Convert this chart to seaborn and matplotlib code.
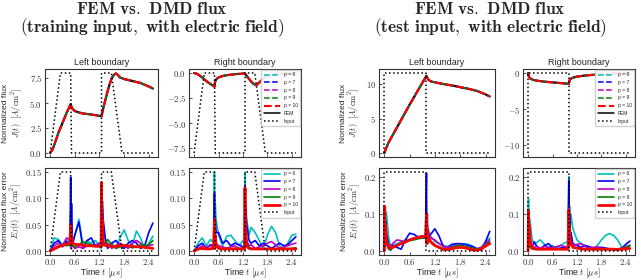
import matplotlib
matplotlib.use("Agg")
import matplotlib.pyplot as plt
import pandas as pd
import seaborn as sns
from matplotlib.lines import Line2D
from matplotlib.ticker import FuncFormatter

# ---------------- data ----------------
labels_p = ["p = 6", "p = 7", "p = 8", "p = 9", "p = 10"]
colors_p = ["#00BFBF", "#0000FF", "#BF00BF", "#008000", "#FF0000"]

# input waveforms (normalized)
train_in_t = [0.0, 0.25, 0.5, 0.52, 1.25, 1.25, 1.49, 1.75, 2.5]
train_in_v = [0, 1, 1, 0, 0, 1, 1, 0, 0]
test_in_t = [0.0, 0.0, 1.0, 1.0, 2.5]
test_in_v = [0, 1, 1, 0, 0]
# input scale / offset for each panel: flux-left, flux-right, err-left, err-right
train_in_scale = [8.0, 8.0, 0.15, 0.15]
train_in_offset = [0.0, -8.0, 0.0, 0.0]
test_in_scale = [11.6, 11.1, 0.213, 0.213]
test_in_offset = [0.0, -11.1, 0.0, 0.0]

# flux (FEM ~ DMD, visually identical)
t_flux_tr = [0.0, 0.05, 0.1, 0.15, 0.2, 0.3, 0.4, 0.5, 0.52, 0.55, 0.6, 0.7, 0.8, 1.0,
             1.25, 1.3, 1.35, 1.4, 1.45, 1.5, 1.55, 1.6, 1.65, 1.7, 1.8, 2.0, 2.2, 2.4, 2.5]
J_left_tr = [0.0, 0.3, 0.8, 1.4, 2.0, 3.0, 4.0, 4.9, 4.6, 4.4, 4.2, 4.05, 3.95, 3.85,
             3.68, 4.6, 5.4, 6.2, 6.9, 7.5, 7.8, 7.95, 7.8, 7.55, 7.4, 7.2, 7.0, 6.65, 6.45]
J_right_tr = [0.0, -0.05, -0.15, -0.3, -0.45, -0.8, -1.1, -1.35, -0.8, -0.6, -0.45, -0.3, -0.22, -0.12,
              -0.05, -0.35, -0.6, -0.85, -1.05, -1.2, -1.15, -0.95, -0.75, -0.55, -0.3, -0.12, -0.06, -0.04, -0.03]

t_flux_te = [0.0, 0.02, 0.05, 0.1, 0.2, 0.4, 0.6, 0.8, 1.0, 1.02, 1.05, 1.1, 1.2, 1.4,
             1.6, 1.8, 2.0, 2.2, 2.4, 2.5]
J_left_te = [0.0, 0.3, 0.8, 1.5, 2.6, 4.8, 7.0, 9.1, 11.2, 10.9, 10.6, 10.4, 10.25, 10.0,
             9.8, 9.55, 9.3, 9.0, 8.5, 8.2]
J_right_te = [0.0, -0.5, -0.75, -0.9, -1.05, -1.2, -1.3, -1.4, -1.5, -1.0, -0.8, -0.65, -0.5, -0.35,
              -0.25, -0.18, -0.12, -0.08, -0.05, -0.04]

# errors, training
t_err_tr = [0.0, 0.1, 0.2, 0.3, 0.4, 0.48, 0.5, 0.51, 0.52, 0.54, 0.6, 0.7, 0.8, 0.9, 1.0, 1.1, 1.2,
            1.24, 1.25, 1.26, 1.27, 1.29, 1.35, 1.4, 1.5, 1.6, 1.7, 1.8, 1.9, 2.0, 2.1, 2.2, 2.3, 2.4, 2.5]
E_left_tr_p6 = [0.0, 0.025, 0.022, 0.012, 0.02, 0.015, 0.07, 0.01, 0.05, 0.02, 0.03, 0.06, 0.01, 0.02, 0.015, 0.02, 0.01,
                0.005, 0.11, 0.02, 0.08, 0.04, 0.02, 0.01, 0.015, 0.005, 0.025, 0.04, 0.02, 0.01, 0.038, 0.025, 0.005, 0.015, 0.028]
E_left_tr_p7 = [0.0, 0.015, 0.02, 0.008, 0.018, 0.01, 0.14, 0.02, 0.09, 0.01, 0.03, 0.055, 0.005, 0.02, 0.025, 0.01, 0.015,
                0.01, 0.13, 0.03, 0.095, 0.06, 0.02, 0.005, 0.015, 0.02, 0.01, 0.005, 0.015, 0.02, 0.015, 0.005, 0.01, 0.035, 0.053]
E_left_tr_p8 = [0.0, 0.01, 0.015, 0.01, 0.025, 0.02, 0.04, 0.005, 0.03, 0.01, 0.005, 0.008, 0.005, 0.01, 0.012, 0.01, 0.015,
                0.01, 0.08, 0.01, 0.05, 0.02, 0.01, 0.015, 0.005, 0.01, 0.015, 0.01, 0.005, 0.015, 0.02, 0.015, 0.008, 0.01, 0.012]
E_left_tr_p9 = [0.0, 0.005, 0.01, 0.012, 0.01, 0.012, 0.05, 0.01, 0.035, 0.01, 0.008, 0.012, 0.018, 0.015, 0.012, 0.01, 0.008,
                0.008, 0.06, 0.01, 0.03, 0.01, 0.015, 0.022, 0.012, 0.005, 0.008, 0.012, 0.01, 0.006, 0.008, 0.012, 0.01, 0.012, 0.02]
E_left_tr_p10 = [0.0, 0.004, 0.008, 0.011, 0.013, 0.015, 0.05, 0.015, 0.03, 0.014, 0.013, 0.012, 0.011, 0.01, 0.01, 0.009, 0.009,
                 0.009, 0.13, 0.02, 0.06, 0.015, 0.01, 0.01, 0.009, 0.009, 0.01, 0.01, 0.01, 0.009, 0.008, 0.008, 0.007, 0.006, 0.005]
E_right_tr_p6 = [0.0, 0.015, 0.025, 0.01, 0.022, 0.015, 0.15, 0.03, 0.09, 0.06, 0.03, 0.01, 0.028, 0.03, 0.02, 0.01, 0.02,
                 0.01, 0.15, 0.03, 0.09, 0.06, 0.03, 0.045, 0.035, 0.02, 0.005, 0.03, 0.047, 0.035, 0.01, 0.002, 0.015, 0.03, 0.032]
E_right_tr_p7 = [0.0, 0.01, 0.015, 0.005, 0.012, 0.01, 0.11, 0.02, 0.06, 0.035, 0.035, 0.015, 0.02, 0.01, 0.015, 0.012, 0.008,
                 0.005, 0.125, 0.03, 0.08, 0.05, 0.02, 0.015, 0.02, 0.01, 0.015, 0.01, 0.005, 0.01, 0.015, 0.01, 0.012, 0.02, 0.027]
E_right_tr_p8 = [0.0, 0.005, 0.01, 0.008, 0.01, 0.008, 0.05, 0.01, 0.03, 0.015, 0.01, 0.008, 0.005, 0.008, 0.01, 0.005, 0.006,
                 0.005, 0.07, 0.01, 0.04, 0.02, 0.01, 0.012, 0.005, 0.008, 0.01, 0.015, 0.018, 0.012, 0.005, 0.008, 0.01, 0.013, 0.015]
E_right_tr_p9 = [0.0, 0.003, 0.005, 0.004, 0.005, 0.005, 0.05, 0.005, 0.025, 0.01, 0.005, 0.004, 0.005, 0.004, 0.005, 0.004, 0.004,
                 0.004, 0.07, 0.01, 0.03, 0.015, 0.008, 0.005, 0.004, 0.005, 0.004, 0.004, 0.005, 0.004, 0.004, 0.005, 0.004, 0.005, 0.006]
E_right_tr_p10 = [0.0, 0.004, 0.005, 0.004, 0.004, 0.005, 0.06, 0.01, 0.03, 0.01, 0.005, 0.004, 0.004, 0.004, 0.004, 0.004, 0.004,
                  0.004, 0.12, 0.015, 0.04, 0.01, 0.005, 0.004, 0.004, 0.004, 0.004, 0.004, 0.004, 0.004, 0.004, 0.004, 0.004, 0.004, 0.004]

# errors, test
t_err_te = [0.0, 0.01, 0.02, 0.03, 0.05, 0.1, 0.15, 0.2, 0.3, 0.4, 0.5, 0.6, 0.7, 0.8, 0.9, 0.98, 1.0, 1.01, 1.02, 1.03,
            1.05, 1.1, 1.2, 1.3, 1.4, 1.5, 1.6, 1.7, 1.8, 1.9, 2.0, 2.1, 2.2, 2.3, 2.4, 2.5]
E_left_te_p6 = [0.0, 0.09, 0.03, 0.07, 0.105, 0.04, 0.01, 0.015, 0.02, 0.025, 0.03, 0.03, 0.032, 0.035, 0.036, 0.037, 0.08, 0.02, 0.05, 0.03,
                0.055, 0.04, 0.025, 0.02, 0.015, 0.012, 0.015, 0.017, 0.018, 0.02, 0.018, 0.012, 0.006, 0.01, 0.025, 0.035]
E_left_te_p7 = [0.0, 0.1, 0.02, 0.08, 0.05, 0.02, 0.002, 0.015, 0.01, 0.005, 0.03, 0.048, 0.045, 0.038, 0.04, 0.04, 0.21, 0.03, 0.1, 0.04,
                0.035, 0.045, 0.06, 0.04, 0.012, 0.01, 0.018, 0.02, 0.02, 0.018, 0.015, 0.012, 0.006, 0.002, 0.025, 0.053]
E_left_te_p8 = [0.0, 0.06, 0.01, 0.04, 0.02, 0.01, 0.015, 0.02, 0.03, 0.028, 0.022, 0.03, 0.033, 0.035, 0.036, 0.035, 0.09, 0.02, 0.06, 0.03,
                0.05, 0.035, 0.03, 0.02, 0.012, 0.01, 0.012, 0.015, 0.016, 0.012, 0.01, 0.008, 0.006, 0.01, 0.02, 0.03]
E_left_te_p9 = [0.0, 0.09, 0.01, 0.05, 0.02, 0.005, 0.004, 0.008, 0.015, 0.02, 0.025, 0.028, 0.03, 0.033, 0.035, 0.036, 0.1, 0.02, 0.07, 0.02,
                0.035, 0.025, 0.015, 0.008, 0.003, 0.005, 0.01, 0.014, 0.015, 0.013, 0.01, 0.007, 0.005, 0.008, 0.016, 0.025]
E_left_te_p10 = [0.0, 0.12, 0.02, 0.07, 0.03, 0.01, 0.008, 0.01, 0.015, 0.02, 0.025, 0.03, 0.034, 0.037, 0.039, 0.04, 0.1, 0.02, 0.06, 0.03,
                 0.035, 0.025, 0.015, 0.01, 0.005, 0.004, 0.006, 0.009, 0.01, 0.009, 0.006, 0.003, 0.002, 0.006, 0.013, 0.02]
E_right_te_p6 = [0.0, 0.14, 0.03, 0.09, 0.08, 0.03, 0.02, 0.022, 0.03, 0.018, 0.01, 0.015, 0.008, 0.015, 0.022, 0.025, 0.2, 0.04, 0.12, 0.06,
                 0.1, 0.06, 0.03, 0.02, 0.015, 0.01, 0.005, 0.015, 0.03, 0.042, 0.047, 0.042, 0.03, 0.01, 0.005, 0.015]
E_right_te_p7 = [0.0, 0.1, 0.02, 0.06, 0.03, 0.01, 0.025, 0.015, 0.005, 0.015, 0.02, 0.01, 0.005, 0.008, 0.01, 0.008, 0.19, 0.03, 0.1, 0.04,
                 0.05, 0.02, 0.015, 0.01, 0.015, 0.012, 0.008, 0.01, 0.01, 0.008, 0.006, 0.004, 0.002, 0.008, 0.018, 0.027]
E_right_te_p8 = [0.0, 0.07, 0.01, 0.03, 0.015, 0.008, 0.01, 0.012, 0.008, 0.012, 0.01, 0.008, 0.012, 0.015, 0.012, 0.01, 0.12, 0.02, 0.06, 0.02,
                 0.03, 0.015, 0.018, 0.02, 0.012, 0.008, 0.01, 0.01, 0.007, 0.005, 0.005, 0.005, 0.006, 0.008, 0.012, 0.015]
E_right_te_p9 = [0.0, 0.08, 0.01, 0.03, 0.01, 0.005, 0.006, 0.005, 0.006, 0.005, 0.006, 0.005, 0.006, 0.005, 0.006, 0.005, 0.1, 0.02, 0.05, 0.015,
                 0.02, 0.01, 0.008, 0.006, 0.005, 0.005, 0.006, 0.005, 0.005, 0.004, 0.004, 0.004, 0.005, 0.006, 0.01, 0.015]
E_right_te_p10 = [0.0, 0.11, 0.02, 0.07, 0.03, 0.01, 0.006, 0.005, 0.005, 0.005, 0.005, 0.005, 0.005, 0.005, 0.005, 0.005, 0.11, 0.02, 0.06, 0.02,
                  0.02, 0.01, 0.008, 0.006, 0.005, 0.005, 0.005, 0.005, 0.005, 0.005, 0.005, 0.005, 0.004, 0.005, 0.006, 0.007]

x_ticks = [0.0, 0.6, 1.2, 1.8, 2.4]

# ---------------- style ----------------
sns.set_theme(style="ticks", color_codes=False)
plt.rcParams.update({
    "font.family": ["Liberation Sans", "DejaVu Sans"],
    "mathtext.fontset": "cm",
    "xtick.direction": "in",
    "ytick.direction": "in",
    "xtick.major.size": 2.5,
    "ytick.major.size": 2.5,
    "xtick.major.width": 0.6,
    "ytick.major.width": 0.6,
    "axes.edgecolor": "#333333",
    "axes.linewidth": 0.8,
    "xtick.color": "#333333",
    "ytick.color": "#333333",
})

fig = plt.figure(figsize=(6.4, 2.79), dpi=100)
W, H = 640.0, 279.0


def box(x0, x1, yt, yb):
    return [x0 / W, 1 - yb / H, (x1 - x0) / W, (yb - yt) / H]


def line(ax, t, v, color, ls="-", lw=1.0, z=2):
    df = pd.DataFrame({"t": t, "v": v})
    sns.lineplot(data=df, x="t", y="v", ax=ax, color=color, linestyle=ls,
                 linewidth=lw, estimator=None, sort=False, legend=False, zorder=z)


def input_line(ax, t, v, scale, offset):
    vals = [offset + scale * x for x in v]
    line(ax, t, vals, "black", ls=":", lw=1.1, z=5)


def fmt(dec):
    return FuncFormatter(lambda val, _: "$" + f"{val:.{dec}f}" + "$")


def style_ax(ax, yticks, dec, bottom):
    ax.set_xlim(-0.125, 2.625)
    ax.set_xticks(x_ticks)
    ax.set_yticks(yticks)
    ax.yaxis.set_major_formatter(fmt(dec))
    if bottom:
        ax.xaxis.set_major_formatter(fmt(1))
    else:
        ax.set_xticklabels([])
    ax.tick_params(axis="y", labelsize=6.3, pad=2)
    ax.tick_params(axis="x", labelsize=6.3, pad=1.5)
    ax.set_xlabel("")
    ax.set_ylabel("")


def flux_panel(ax, t, J, in_t, in_v, sc, off):
    line(ax, t, J, "black", "-", 1.6, 1)
    for c in colors_p:
        line(ax, t, J, c, "--", 1.5 if c == "#FF0000" else 1.1, 2)
    input_line(ax, in_t, in_v, sc, off)


def err_panel(ax, t, series, in_t, in_v, sc, off):
    for c, s in zip(colors_p, series):
        line(ax, t, s, c, "-", 2.0 if c == "#FF0000" else 1.2, 2)
    input_line(ax, in_t, in_v, sc, off)


groups = [
    dict(x=[(45, 158), (189, 301)], t_flux=t_flux_tr, J=[J_left_tr, J_right_tr],
         in_t=train_in_t, in_v=train_in_v, sc=train_in_scale, off=train_in_offset,
         t_err=t_err_tr,
         E=[[E_left_tr_p6, E_left_tr_p7, E_left_tr_p8, E_left_tr_p9, E_left_tr_p10],
            [E_right_tr_p6, E_right_tr_p7, E_right_tr_p8, E_right_tr_p9, E_right_tr_p10]],
         fticks=[[0, 2.5, 5.0, 7.5], [0, -2.5, -5.0, -7.5]], fdec=1,
         eticks=[0, 0.05, 0.10, 0.15], edec=2, lab=(-0.18, -0.185),
         title1="$\\mathbf{FEM\\ vs.\\ DMD\\ flux}$",
         title2="$\\mathbf{(training\\ input,\\ with\\ electric\\ field)}$",
         tx=152),
    dict(x=[(379, 495), (523, 635)], t_flux=t_flux_te, J=[J_left_te, J_right_te],
         in_t=test_in_t, in_v=test_in_v, sc=test_in_scale, off=test_in_offset,
         t_err=t_err_te,
         E=[[E_left_te_p6, E_left_te_p7, E_left_te_p8, E_left_te_p9, E_left_te_p10],
            [E_right_te_p6, E_right_te_p7, E_right_te_p8, E_right_te_p9, E_right_te_p10]],
         fticks=[[0, 5, 10], [0, -5, -10]], fdec=0,
         eticks=[0, 0.1, 0.2], edec=1, lab=(-0.147, -0.138),
         title1="$\\mathbf{FEM\\ vs.\\ DMD\\ flux}$",
         title2="$\\mathbf{(test\\ input,\\ with\\ electric\\ field)}$",
         tx=490),
]

for g in groups:
    for j, (x0, x1) in enumerate(g["x"]):
        axf = fig.add_axes(box(x0, x1, 69, 157))
        flux_panel(axf, g["t_flux"], g["J"][j], g["in_t"], g["in_v"], g["sc"][j], g["off"][j])
        style_ax(axf, g["fticks"][j], g["fdec"], False)
        axf.set_title("Left boundary" if j == 0 else "Right boundary", fontsize=6.5, pad=3)

        axe = fig.add_axes(box(x0, x1, 168, 255))
        err_panel(axe, g["t_err"], g["E"][j], g["in_t"], g["in_v"], g["sc"][2 + j], g["off"][2 + j])
        style_ax(axe, g["eticks"], g["edec"], True)
        axe.set_xlabel("Time $t$ $[\\mu s]$", fontsize=6.3, labelpad=0)

        if j == 0:
            axf.set_ylabel("Normalized flux\n$J(t)\\ \\ [A/\\mathrm{cm}^2]$", fontsize=6.1,
                           linespacing=1.0)
            axe.set_ylabel("Normalized flux error\n$E_J(t)\\ \\ [A/\\mathrm{cm}^2]$", fontsize=6.1,
                           linespacing=1.0)
            axf.yaxis.set_label_coords(g["lab"][0], 0.5)
            axe.yaxis.set_label_coords(g["lab"][1], 0.5)
        else:
            hf = [Line2D([], [], color=c, ls="--", lw=1.5 if c == "#FF0000" else 1.1) for c in colors_p]
            hf += [Line2D([], [], color="black", lw=1.1), Line2D([], [], color="black", ls=":", lw=1.1)]
            axf.legend(hf, labels_p + ["FEM", "Input"], loc="upper right", fontsize=3.6,
                       handlelength=3.2, labelspacing=0.55, borderpad=0.5, borderaxespad=0.15,
                       frameon=True, framealpha=0.9, edgecolor="#cccccc", fancybox=True)
            he = [Line2D([], [], color=c, lw=2.0 if c == "#FF0000" else 1.2) for c in colors_p]
            he += [Line2D([], [], color="black", ls=":", lw=1.1)]
            axe.legend(he, labels_p + ["Input"], loc="upper right", fontsize=3.6,
                       handlelength=3.2, labelspacing=0.55, borderpad=0.5, borderaxespad=0.15,
                       frameon=True, framealpha=0.9, edgecolor="#cccccc", fancybox=True)

    fig.text(g["tx"] / W, 1 - 14 / H, g["title1"], ha="center", va="baseline", fontsize=12.5)
    fig.text(g["tx"] / W, 1 - 32 / H, g["title2"], ha="center", va="baseline", fontsize=12.5)

fig.savefig("out.png", dpi=100)
